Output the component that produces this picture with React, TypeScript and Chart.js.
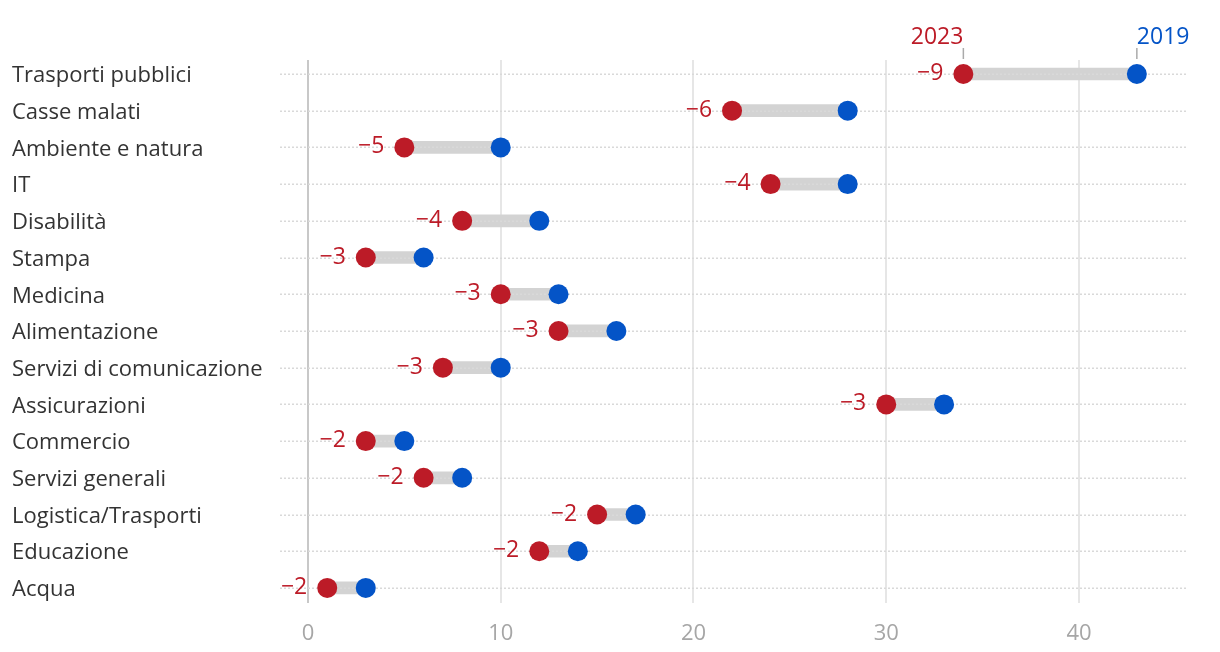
import React, { useEffect, useRef } from "react";
import { Chart, registerables } from "chart.js";
Chart.register(...registerables);

const categories = [
  "Trasporti pubblici",
  "Casse malati",
  "Ambiente e natura",
  "IT",
  "Disabilità",
  "Stampa",
  "Medicina",
  "Alimentazione",
  "Servizi di comunicazione",
  "Assicurazioni",
  "Commercio",
  "Servizi generali",
  "Logistica/Trasporti",
  "Educazione",
  "Acqua",
];
const values2023 = [34, 22, 5, 24, 8, 3, 10, 13, 7, 30, 3, 6, 15, 12, 1];
const values2019 = [43, 28, 10, 28, 12, 6, 13, 16, 10, 33, 5, 8, 17, 14, 3];
const xTicks = [0, 10, 20, 30, 40];
const seriesNames = ["2023", "2019"];

const RED = "#bc1b27";
const BLUE = "#0454c7";
const FONT = "'Open Sans'";

export default function App() {
  const ref = useRef<HTMLCanvasElement>(null);
  useEffect(() => {
    document.body.style.margin = "0";
    const canvas = ref.current!;
    const overlay = {
      id: "overlay",
      beforeDatasetsDraw(chart: any) {
        const ctx = chart.ctx;
        const x = chart.scales.x;
        ctx.save();
        xTicks.forEach((t) => {
          const px = Math.round(x.getPixelForValue(t));
          ctx.strokeStyle = t === 0 ? "#c8c8c8" : "#e6e6e6";
          ctx.lineWidth = 2;
          ctx.beginPath();
          ctx.moveTo(px, 60);
          ctx.lineTo(px, 603);
          ctx.stroke();
        });
        ctx.restore();
      },
      afterDatasetDraw(chart: any, args: any) {
        if (args.index !== 0) return;
        const ctx = chart.ctx;
        const y = chart.scales.y;
        const a = chart.chartArea;
        ctx.save();
        ctx.strokeStyle = "#d9d9d9";
        ctx.lineWidth = 1.5;
        ctx.setLineDash([2, 2]);
        categories.forEach((_, i) => {
          const py = Math.round(y.getPixelForValue(i)) + 0.25;
          ctx.beginPath();
          ctx.moveTo(a.left, py);
          ctx.lineTo(a.right, py);
          ctx.stroke();
        });
        ctx.restore();
      },
      afterDraw(chart: any) {
        const ctx = chart.ctx;
        const x = chart.scales.x;
        const y = chart.scales.y;
        ctx.save();
        ctx.font = `23px ${FONT}`;
        ctx.textBaseline = "middle";
        ctx.textAlign = "right";
        ctx.fillStyle = RED;
        categories.forEach((_, i) => {
          const d = values2019[i] - values2023[i];
          const px = x.getPixelForValue(values2023[i]) - 20;
          ctx.fillText("−" + d, px, y.getPixelForValue(i) - 0.5);
        });
        // header labels
        const x23 = x.getPixelForValue(values2023[0]);
        const x19 = x.getPixelForValue(values2019[0]);
        ctx.textBaseline = "alphabetic";
        ctx.textAlign = "right";
        ctx.fillStyle = RED;
        ctx.fillText(seriesNames[0], x23, 44);
        ctx.textAlign = "left";
        ctx.fillStyle = BLUE;
        ctx.fillText(seriesNames[1], x19, 44);
        ctx.strokeStyle = "#aaaaaa";
        ctx.lineWidth = 1.5;
        [x23, x19].forEach((px) => {
          ctx.beginPath();
          ctx.moveTo(px, 48);
          ctx.lineTo(px, 59);
          ctx.stroke();
        });
        ctx.restore();
      },
    };
    const chart = new Chart(canvas, {
      type: "bar",
      data: {
        labels: categories,
        datasets: [
          {
            type: "bar",
            data: categories.map((_, i) => [values2023[i], values2019[i]]) as any,
            backgroundColor: "#d3d3d3",
            barThickness: 12,
            borderSkipped: false,
            order: 3,
          },
          {
            type: "line",
            label: seriesNames[0],
            data: values2023,
            showLine: false,
            pointRadius: 10,
            pointHoverRadius: 10,
            pointBackgroundColor: RED,
            pointBorderWidth: 0,
            order: 1,
          } as any,
          {
            type: "line",
            label: seriesNames[1],
            data: values2019,
            showLine: false,
            pointRadius: 10,
            pointHoverRadius: 10,
            pointBackgroundColor: BLUE,
            pointBorderWidth: 0,
            order: 1,
          } as any,
        ],
      },
      options: {
        indexAxis: "y",
        animation: false,
        responsive: false,
        devicePixelRatio: 1,
        layout: { padding: { top: 55.6, right: 34, left: 12, bottom: 0 } },
        plugins: { legend: { display: false }, tooltip: { enabled: false } },
        scales: {
          x: {
            type: "linear",
            min: -1.45,
            max: 45.55,
            grid: { display: false },
            border: { display: false },
            ticks: { color: "#a6a6a6", font: { family: FONT, size: 22 }, padding: 6 },
            afterBuildTicks: (s: any) => {
              s.ticks = xTicks.map((v) => ({ value: v }));
            },
            afterFit: (s: any) => {
              s.height = 45.7;
            },
          },
          y: {
            type: "category",
            grid: { display: false },
            border: { display: false },
            ticks: {
              color: "#333333",
              font: { family: FONT, size: 22 },
              crossAlign: "far",
              padding: 0,
              labelOffset: 2,
            },
            afterFit: (s: any) => {
              s.width = 268;
            },
          },
        },
      },
      plugins: [overlay],
    });
    return () => chart.destroy();
  }, []);
  return (
    <div style={{ width: 1220, height: 652 }}>
      <canvas ref={ref} width={1220} height={652} />
    </div>
  );
}
